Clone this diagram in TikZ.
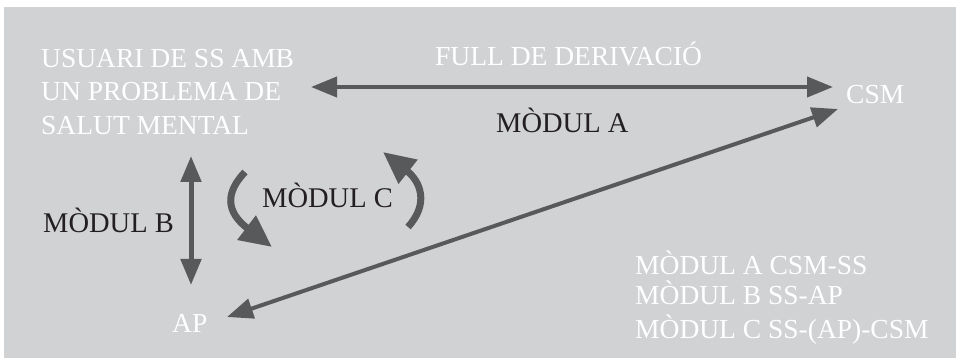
\documentclass[tikz,border=0pt]{standalone}
\usepackage{fontspec}
\setmainfont{Liberation Serif}
\usetikzlibrary{arrows.meta}
\definecolor{bggray}{HTML}{D1D2D4}
\definecolor{arrgray}{HTML}{58595B}
\definecolor{txtblack}{HTML}{231F20}
\tikzset{
  wtext/.style={anchor=base west,inner sep=0pt,text=white,font=\fontsize{27.5}{33}\selectfont,align=left},
  btext/.style={anchor=base west,inner sep=0pt,text=txtblack,font=\fontsize{28.5}{33}\selectfont},
  conn/.style={draw=arrgray,line width=4pt,{Triangle[length=26pt,width=20pt]}-{Triangle[length=26pt,width=20pt]}},
  curv/.style={draw=arrgray,line width=7pt,-{Triangle[length=32pt,width=29pt]}}
}
\begin{document}
\begin{tikzpicture}[x=1pt,y=-1pt]
\useasboundingbox (0,0) rectangle (956,358);
\fill[white] (0,0) rectangle (956,358);
\fill[bggray] (4,7) rectangle (956,358);
% texts
\node[wtext] (ss1) at (41,68) {USUARI DE SS AMB};
\node[wtext] (ss2) at (41,101) {UN PROBLEMA DE};
\node[wtext] (ss3) at (41,135) {SALUT MENTAL};
\node[wtext] (full) at (435,66) {FULL DE DERIVACIÓ};
\node[btext] (ma) at (496,133) {MÒDUL A};
\node[wtext] (csm) at (846,104) {CSM};
\node[btext] (mb) at (43,233) {MÒDUL B};
\node[btext] (mc) at (262,208) {MÒDUL C};
\node[wtext] (ap) at (172,332) {AP};
\node[wtext] (l1) at (635,275) {MÒDUL A CSM-SS};
\node[wtext] (l2) at (635,305) {MÒDUL B SS-AP};
\node[wtext] (l3) at (635,338) {MÒDUL C SS-(AP)-CSM};
% connector endpoints
\coordinate (hA) at (311,87);
\coordinate (hB) at (833,87);
\coordinate (dA) at (838,109);
\coordinate (dB) at (227,317);
\coordinate (vA) at (191,156);
\coordinate (vB) at (191,285);
\coordinate (c1s) at (245,172);
\coordinate (c1e) at (272,247);
\coordinate (c2s) at (408,227);
\coordinate (c2e) at (383,152);
% connectors
\draw[conn] (hA) -- (hB);
\draw[conn] (dB) -- (dA);
\draw[conn,line width=5pt] (vA) -- (vB);
\draw[curv] (c1s) .. controls (225,193) and (226,212) .. (c1e);
\draw[curv] (c2s) .. controls (429,204) and (421,182) .. (c2e);
\end{tikzpicture}
\end{document}
